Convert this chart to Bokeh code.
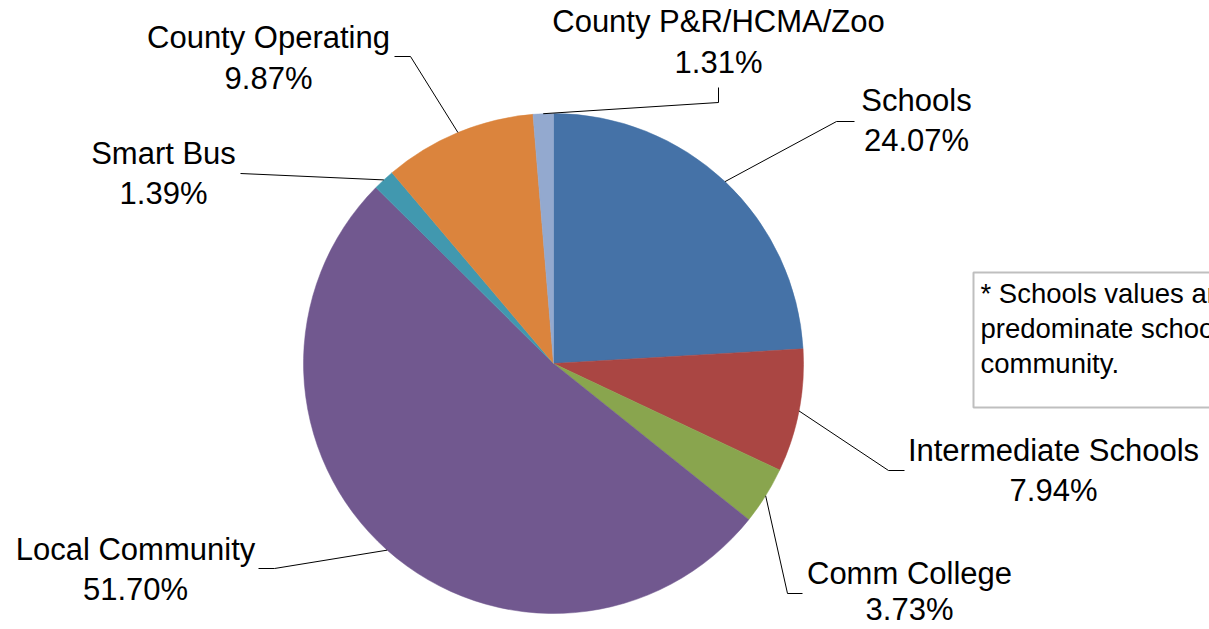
import math
from bokeh.plotting import figure
from bokeh.models import Range1d
from bokeh.core.properties import value
from bokeh.embed import file_html
from bokeh.resources import INLINE

# ---- data ----
categories = ["Schools", "Intermediate Schools", "Comm College", "Local Community",
              "Smart Bus", "County Operating", "County P&R/HCMA/Zoo"]
shares = [24.07, 7.94, 3.73, 51.70, 1.39, 9.87, 1.31]
colors = ["#4572A7", "#AA4643", "#89A54E", "#71588F", "#4198AF", "#DB843D", "#93A9CF"]
note_lines = ["* Schools values are based on the",
              "predominate school district in the",
              "community."]

# ---- layout (screen pixels) ----
W, H = 1209, 629
CX, CY, R = 553, 363, 250
FONT = value("Liberation Sans")
# label centre (first line), gap to second line, leader elbow points
label_pos = {
    "Schools": (916, 100, 40, [(836, 121), (854, 121)]),
    "Intermediate Schools": (1053, 450, 40, [(888, 470), (904, 470)]),
    "Comm College": (909, 573, 36, [(787, 593), (802, 593)]),
    "Local Community": (135, 549, 40, [(274, 568), (258, 568)]),
    "Smart Bus": (163, 153, 40, [(240, 173)]),
    "County Operating": (268, 37, 41, [(410, 56), (394, 56)]),
    "County P&R/HCMA/Zoo": (718, 21, 41, [(718, 102), (718, 87)]),
}


def Y(sy):
    return H - sy


p = figure(width=W, height=H, output_backend="svg", toolbar_location=None,
           x_range=Range1d(0, W), y_range=Range1d(0, H),
           min_border=0, x_axis_location=None, y_axis_location=None)
p.grid.visible = False
p.outline_line_color = None
p.background_fill_color = "white"
p.border_fill_color = "white"

total = sum(shares)
starts, ends, mids = [], [], []
cum = 0.0
for v in shares:
    a0 = math.pi / 2 - 2 * math.pi * cum / total
    a1 = math.pi / 2 - 2 * math.pi * (cum + v) / total
    starts.append(a0)
    ends.append(a1)
    mids.append((a0 + a1) / 2)
    cum += v

p.wedge(x=[CX] * len(shares), y=[Y(CY)] * len(shares), radius=R,
        start_angle=starts, end_angle=ends, direction="clock",
        fill_color=colors, line_color=colors, line_width=0.5)

# leader lines
xs, ys = [], []
for cat, m in zip(categories, mids):
    ex, ey = CX + R * math.cos(m), CY - R * math.sin(m)
    pts = [(ex, ey)] + label_pos[cat][3]
    xs.append([q[0] for q in pts])
    ys.append([Y(q[1]) for q in pts])
p.multi_line(xs=xs, ys=ys, line_color="#000000", line_width=1)

# labels
tx, ty, tt = [], [], []
for cat, v in zip(categories, shares):
    lx, ly, gap, _ = label_pos[cat]
    tx += [lx, lx]
    ty += [Y(ly), Y(ly + gap)]
    tt += [cat, f"{v:.2f}%"]
p.text(x=tx, y=ty, text=tt, text_font=FONT, text_font_size="31px",
       text_align="center", text_baseline="middle", text_color="#000000")

# note box
p.quad(left=[973], right=[1260], top=[Y(272)], bottom=[Y(407)],
       fill_color="white", line_color="#BFBFBF", line_width=2)
p.text(x=[980] * 3, y=[Y(293 + 35 * i) for i in range(3)], text=note_lines,
       text_font=FONT, text_font_size="27.5px", text_align="left",
       text_baseline="middle", text_color="#000000")

open("out.html", "w").write(file_html(p, INLINE))
